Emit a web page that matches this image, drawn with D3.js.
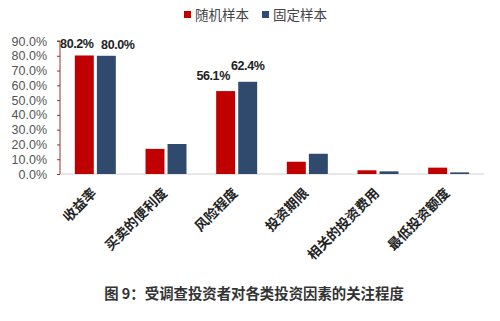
<!DOCTYPE html>
<html>
<head>
<meta charset="utf-8">
<script src="https://cdn.jsdelivr.net/npm/d3@7"></script>
<style>
  body { margin: 0; background: #fff; }
  svg { display: block; }
</style>
</head>
<body>
<div id="chart"></div>
<script>
const categories = ["收益率", "买卖的便利度", "风险程度", "投资期限", "相关的投资费用", "最低投资额度"];
const seriesNames = ["随机样本", "固定样本"];
const randomSample = [80.2, 17.0, 56.1, 8.3, 2.5, 4.3];
const fixedSample = [80.0, 20.3, 62.4, 13.7, 1.8, 1.1];
const yTicks = [0, 10, 20, 30, 40, 50, 60, 70, 80, 90];
const labelledValues = [[0, 0], [0, 1], [2, 0], [2, 1]];
const caption = "图 9：受调查投资者对各类投资因素的关注程度";

const width = 500, height = 321;
const margin = {top: 41, right: 16, bottom: 147, left: 60};
const colors = ["#C00000", "#2F4A6D"];

const svg = d3.select("#chart").append("svg")
    .attr("width", width)
    .attr("height", height);

const x = d3.scaleBand()
    .domain(categories)
    .range([margin.left, width - margin.right])
    .paddingInner(0.42)
    .paddingOuter(0.21);

const xInner = d3.scaleBand()
    .domain([0, 1])
    .range([0, x.bandwidth()])
    .paddingInner(0.14);

const y = d3.scaleLinear()
    .domain([0, 90])
    .range([height - margin.bottom, margin.top]);

// x axis line
svg.append("line")
    .attr("x1", margin.left).attr("x2", width - margin.right)
    .attr("y1", y(0)).attr("y2", y(0))
    .attr("stroke", "#d0d0d0");

// bars
const series = [randomSample, fixedSample];
series.forEach((vals, s) => {
    svg.append("g").selectAll("rect")
        .data(vals)
        .join("rect")
        .attr("x", (d, i) => x(categories[i]) + xInner(s))
        .attr("y", d => y(d))
        .attr("width", xInner.bandwidth())
        .attr("height", d => y(0) - y(d))
        .attr("fill", colors[s]);
});

// y axis
const yAxis = svg.append("g")
    .attr("transform", `translate(${margin.left},0)`)
    .call(d3.axisLeft(y)
        .tickValues(yTicks)
        .tickSize(3)
        .tickPadding(10)
        .tickFormat(d => d.toFixed(1) + "%"));
yAxis.select(".domain").attr("stroke", "#9b3030").attr("d", `M-3,${y(90)}H0V${y(0)}`);
yAxis.selectAll(".tick line").attr("stroke", "#9b3030");
yAxis.selectAll(".tick text")
    .attr("fill", "#555")
    .style("font-family", "Liberation Sans, Arial, sans-serif")
    .style("font-size", "12.5px");

// value labels
const labelOffsets = {"0,0": [-7.5, -7.5], "0,1": [11.5, -7], "2,0": [-12.5, -11], "2,1": [0, -12]};
svg.append("g").selectAll("text")
    .data(labelledValues)
    .join("text")
    .attr("x", d => x(categories[d[0]]) + xInner(d[1]) + xInner.bandwidth() / 2 + labelOffsets[d.join(",")][0])
    .attr("y", d => y(series[d[1]][d[0]]) + labelOffsets[d.join(",")][1])
    .attr("text-anchor", "middle")
    .style("font-family", "Liberation Sans, Arial, sans-serif")
    .style("font-weight", "bold")
    .style("font-size", "12.5px")
    .style("letter-spacing", "-0.4px")
    .attr("fill", "#222")
    .text(d => series[d[1]][d[0]].toFixed(1) + "%");

// category labels
svg.append("g").selectAll("text")
    .data(categories)
    .join("text")
    .attr("transform", d => `translate(${x(d) + x.bandwidth() / 2 + 2},${y(0) + 20}) rotate(-45)`)
    .attr("text-anchor", "end")
    .style("font-family", "Noto Sans CJK SC, sans-serif")
    .style("font-weight", "bold")
    .style("font-size", "13.5px")
    .attr("fill", "#222")
    .text(d => d);

// legend
const legend = svg.append("g").attr("transform", "translate(184,8)");
const legendX = [0, 78];
seriesNames.forEach((name, s) => {
    const g = legend.append("g").attr("transform", `translate(${legendX[s]},0)`);
    g.append("rect").attr("x", 0).attr("y", 3).attr("width", 7).attr("height", 7).attr("fill", colors[s]);
    g.append("text")
        .attr("x", 11).attr("y", 12)
        .style("font-family", "Noto Sans CJK SC, sans-serif")
        .style("font-size", "13.5px")
        .attr("fill", "#444")
        .text(name);
});

// caption
svg.append("text")
    .attr("x", 254).attr("y", 299)
    .attr("text-anchor", "middle")
    .style("font-family", "Noto Sans CJK SC, sans-serif")
    .style("font-weight", "bold")
    .style("font-size", "14.4px")
    .attr("fill", "#333")
    .text(caption);
</script>
</body>
</html>
